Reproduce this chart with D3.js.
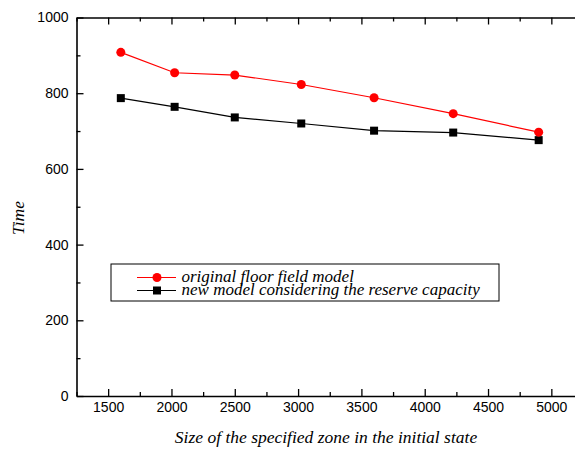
<!DOCTYPE html>
<html>
<head>
<meta charset="utf-8">
<script src="https://cdn.jsdelivr.net/npm/d3@7"></script>
<style>
  body { margin: 0; background: #fff; }
  svg { display: block; }
  .tick text { font-family: "Liberation Sans", Arial, sans-serif; font-size: 14px; fill: #000; }
  .axis path, .axis line { stroke: #000; }
  .ital { font-family: "Liberation Serif", "Times New Roman", serif; font-style: italic; fill: #000; }
</style>
</head>
<body>
<svg width="575" height="450"></svg>
<script>
  // zone sizes (x) and times for the two models
  const zoneSizes = [1600, 2025, 2500, 3025, 3600, 4225, 4900];
  const originalModel = [908, 854, 848, 823, 788, 746, 697];
  const newModel = [787, 764, 736, 720, 701, 696, 676];
  const xTicks = [1500, 2000, 2500, 3000, 3500, 4000, 4500, 5000];
  const yTicks = [0, 200, 400, 600, 800, 1000];
  const seriesNames = ["original floor field model", "new model considering the reserve capacity"];

  const svg = d3.select("svg");

  const x = d3.scaleLinear().domain([1250, 5250]).range([76.5, 583]);
  const y = d3.scaleLinear().domain([0, 1000]).range([396, 17.5]);

  const minorX = d3.range(1250, 5251, 250).filter(v => v % 500 !== 0);
  const minorY = d3.range(100, 1000, 200);
  const fmt = d3.format("d");

  // bottom axis
  const gx = svg.append("g").attr("class", "axis").attr("transform", `translate(0,${y(0)})`);
  gx.call(d3.axisBottom(x).tickValues(xTicks).tickFormat(fmt).tickSizeInner(-7).tickSizeOuter(0).tickPadding(6));
  gx.append("g").call(d3.axisBottom(x).tickValues(minorX).tickSize(-4).tickFormat(""))
    .select(".domain").remove();

  // top axis
  const gt = svg.append("g").attr("class", "axis").attr("transform", `translate(0,${y(1000)})`);
  gt.call(d3.axisTop(x).tickValues(xTicks).tickSizeInner(-7).tickSizeOuter(0).tickFormat(""));
  gt.append("g").call(d3.axisTop(x).tickValues(minorX).tickSize(-4).tickFormat(""))
    .select(".domain").remove();

  // left axis
  const gy = svg.append("g").attr("class", "axis").attr("transform", `translate(${x(1250)},0)`);
  gy.call(d3.axisLeft(y).tickValues(yTicks).tickFormat(fmt).tickSizeInner(-7).tickSizeOuter(0).tickPadding(8));
  gy.append("g").call(d3.axisLeft(y).tickValues(minorY).tickSize(-4).tickFormat(""))
    .select(".domain").remove();

  svg.selectAll(".axis .domain").attr("stroke-width", 1.6);
  svg.selectAll(".axis .tick line").attr("stroke-width", 1.3);

  // series
  const line = d3.line().x((d, i) => x(zoneSizes[i])).y(d => y(d));

  svg.append("path").datum(newModel)
    .attr("fill", "none").attr("stroke", "#000").attr("stroke-width", 1.2)
    .attr("d", line);
  svg.append("path").datum(originalModel)
    .attr("fill", "none").attr("stroke", "#ff0000").attr("stroke-width", 1.2)
    .attr("d", line);

  svg.append("g").selectAll("rect").data(newModel).enter().append("rect")
    .attr("x", (d, i) => x(zoneSizes[i]) - 4)
    .attr("y", d => y(d) - 4)
    .attr("width", 8).attr("height", 8)
    .attr("fill", "#000");

  svg.append("g").selectAll("circle").data(originalModel).enter().append("circle")
    .attr("cx", (d, i) => x(zoneSizes[i]))
    .attr("cy", d => y(d))
    .attr("r", 4.5)
    .attr("fill", "#ff0000");

  // legend
  const legend = svg.append("g").attr("transform", "translate(111,264)");
  legend.append("rect").attr("width", 388).attr("height", 37)
    .attr("fill", "#fff").attr("stroke", "#000").attr("stroke-width", 1);

  const rows = legend.selectAll(".legends").data(seriesNames).enter().append("g")
    .attr("transform", (d, i) => `translate(0,${13.5 + i * 13})`);
  rows.append("line").attr("x1", 26).attr("x2", 65).attr("y1", 0).attr("y2", 0)
    .attr("stroke", (d, i) => i === 0 ? "#ff0000" : "#000").attr("stroke-width", 1.2);
  rows.filter((d, i) => i === 0).append("circle").attr("cx", 46).attr("cy", 0).attr("r", 4.5).attr("fill", "#ff0000");
  rows.filter((d, i) => i === 1).append("rect").attr("x", 42).attr("y", -4).attr("width", 8).attr("height", 8).attr("fill", "#000");
  rows.append("text").attr("class", "ital").attr("x", 70.5).attr("y", 4.5)
    .style("font-size", "17px").text(d => d);

  // axis titles
  svg.append("text").attr("class", "ital")
    .attr("x", 326).attr("y", 443)
    .attr("text-anchor", "middle").style("font-size", "17.5px")
    .text("Size of the specified zone in the initial state");

  svg.append("text").attr("class", "ital")
    .attr("transform", "translate(24,218) rotate(-90)")
    .attr("text-anchor", "middle").style("font-size", "17.5px")
    .text("Time");
</script>
</body>
</html>
